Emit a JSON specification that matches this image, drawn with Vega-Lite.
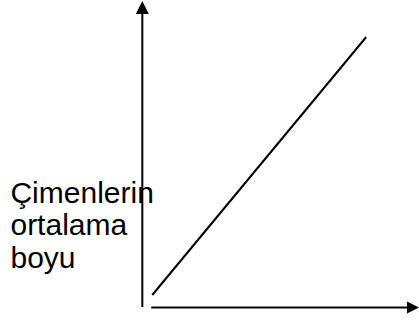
{
  "$schema": "https://vega.github.io/schema/vega-lite/v6.json",
  "width": 419,
  "height": 322,
  "autosize": {"type": "fit", "contains": "padding"},
  "padding": 0,
  "background": "white",
  "config": {"view": {"stroke": null}},
  "datasets": {
    "yaxis": [{"x": 143, "y": 15, "y2": 310}],
    "xaxis": [{"x": 152, "x2": 412, "y": 14.5}],
    "trend": [{"x": 153, "y": 27}, {"x": 368, "y": 285}],
    "uparrow": [{"x": 143, "y": 314.5}],
    "rightarrow": [{"x": 415, "y": 14.5}],
    "labels": [
      {"t": "Çimenlerin", "x": 10.5, "y": 119},
      {"t": "ortalama", "x": 10.5, "y": 87.5},
      {"t": "boyu", "x": 10.5, "y": 54.5}
    ]
  },
  "layer": [
    {
      "data": {"name": "yaxis"},
      "mark": {"type": "rule", "color": "black", "strokeWidth": 2},
      "encoding": {
        "x": {"field": "x", "type": "quantitative", "scale": {"domain": [0, 419], "nice": false, "zero": false}, "axis": null},
        "y": {"field": "y", "type": "quantitative", "scale": {"domain": [0, 322], "nice": false, "zero": false}, "axis": null},
        "y2": {"field": "y2"}
      }
    },
    {
      "data": {"name": "xaxis"},
      "mark": {"type": "rule", "color": "black", "strokeWidth": 2},
      "encoding": {
        "x": {"field": "x", "type": "quantitative"},
        "x2": {"field": "x2"},
        "y": {"field": "y", "type": "quantitative"}
      }
    },
    {
      "data": {"name": "trend"},
      "mark": {"type": "line", "color": "black", "strokeWidth": 2},
      "encoding": {
        "x": {"field": "x", "type": "quantitative"},
        "y": {"field": "y", "type": "quantitative"}
      }
    },
    {
      "data": {"name": "uparrow"},
      "mark": {"type": "point", "shape": "M0,-1L-1,1L1,1Z", "filled": true, "color": "black", "opacity": 1, "size": 169},
      "encoding": {
        "x": {"field": "x", "type": "quantitative"},
        "y": {"field": "y", "type": "quantitative"}
      }
    },
    {
      "data": {"name": "rightarrow"},
      "mark": {"type": "point", "shape": "M1,0L-1,-1L-1,1Z", "filled": true, "color": "black", "opacity": 1, "size": 144},
      "encoding": {
        "x": {"field": "x", "type": "quantitative"},
        "y": {"field": "y", "type": "quantitative"}
      }
    },
    {
      "data": {"name": "labels"},
      "mark": {"type": "text", "font": "Liberation Sans", "fontSize": 30, "align": "left", "baseline": "alphabetic", "color": "black"},
      "encoding": {
        "x": {"field": "x", "type": "quantitative"},
        "y": {"field": "y", "type": "quantitative"},
        "text": {"field": "t"}
      }
    }
  ]
}
